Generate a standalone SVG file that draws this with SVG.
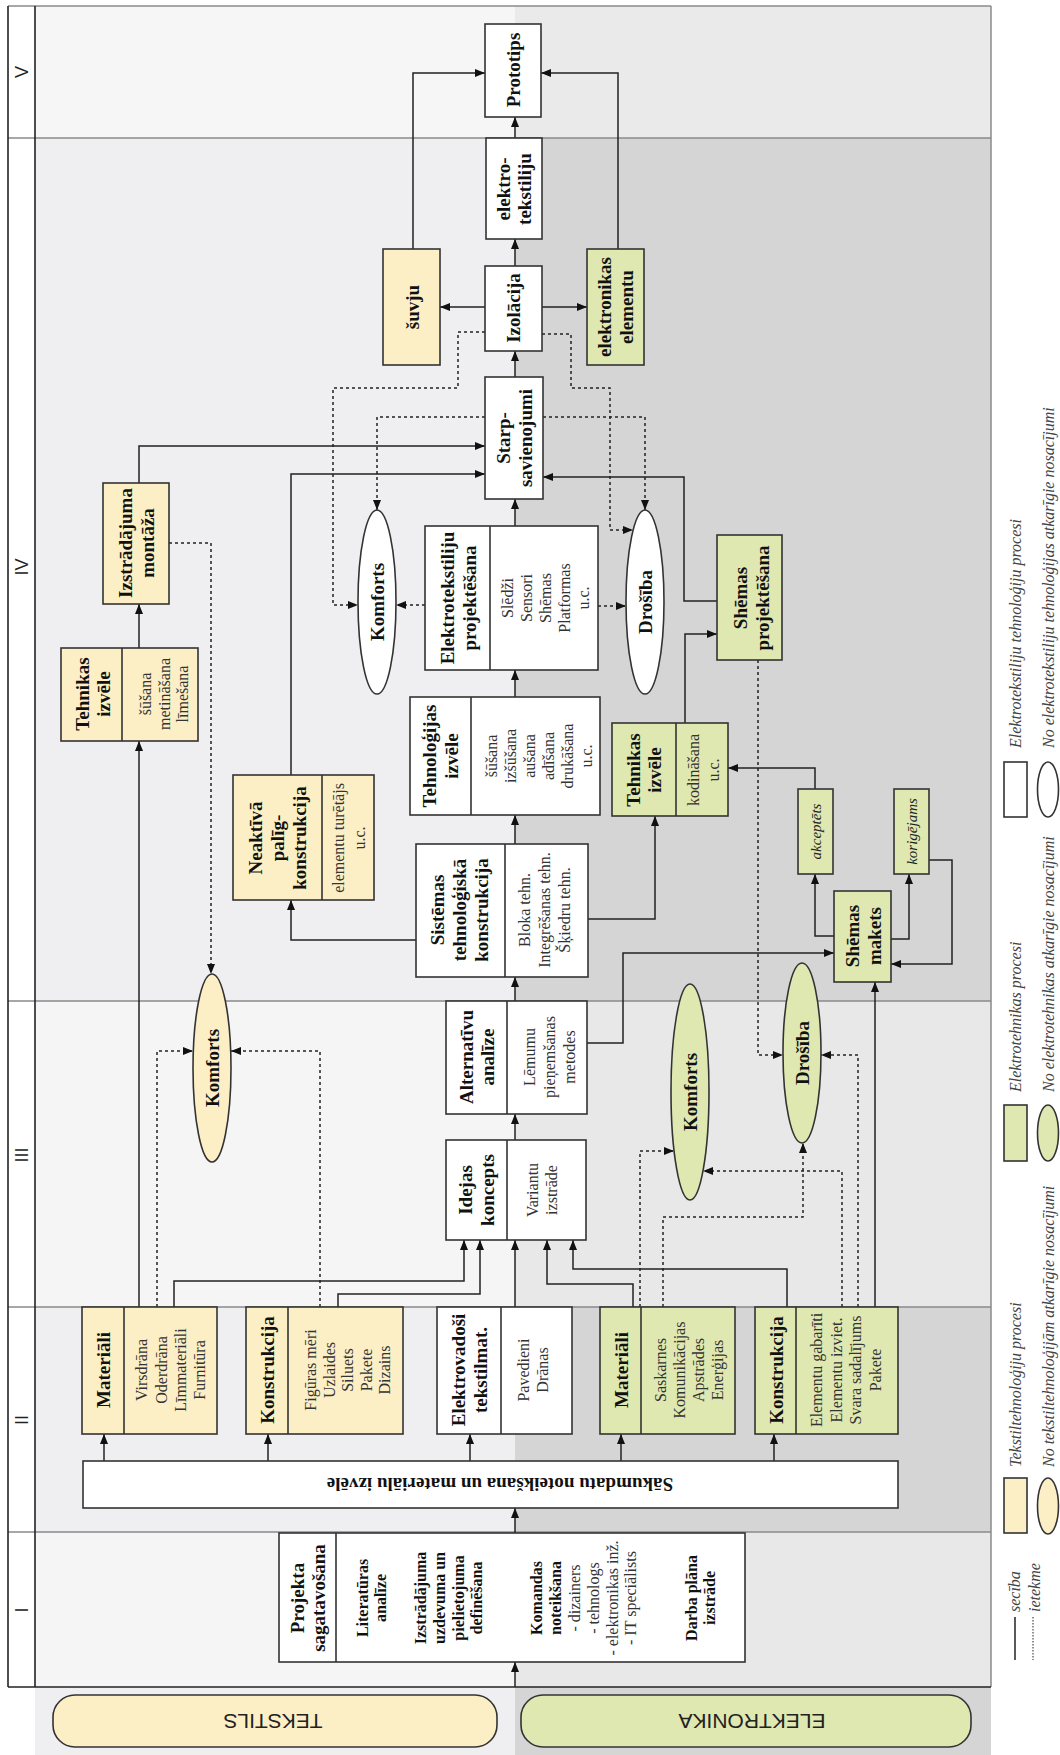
<svg xmlns="http://www.w3.org/2000/svg" width="1060" height="1755" viewBox="0 0 1060 1755">
<style>
.bx{stroke:#333;stroke-width:1.6}
.w{fill:#fff}.y{fill:#fcefc6}.g{fill:#dfe8b1}
.t{font-family:"Liberation Serif",serif;font-weight:bold;font-size:19px;text-anchor:middle;dominant-baseline:central;fill:#111}
.tb{font-family:"Liberation Serif",serif;font-weight:bold;font-size:16px;text-anchor:middle;dominant-baseline:central;fill:#111}
.l{font-family:"Liberation Serif",serif;font-size:16px;text-anchor:middle;dominant-baseline:central;fill:#333}
.i{font-family:"Liberation Serif",serif;font-style:italic;font-size:15px;text-anchor:middle;dominant-baseline:central;fill:#222}
.lg{font-family:"Liberation Serif",serif;font-style:italic;font-size:16px;dominant-baseline:central;fill:#444}
.n{font-family:"Liberation Sans",sans-serif;font-size:18px;text-anchor:middle;dominant-baseline:central;fill:#222}
.p{font-family:"Liberation Sans",sans-serif;font-size:21px;text-anchor:middle;dominant-baseline:central;fill:#222}
.c{fill:none;stroke:#222;stroke-width:1.5}
.d{fill:none;stroke:#222;stroke-width:1.5;stroke-dasharray:3 3}
.ph{stroke:#8a8a8a;stroke-width:1.5}
</style>
<defs>
<marker id="a" viewBox="0 0 10 8" refX="10" refY="4" markerWidth="10" markerHeight="8" markerUnits="userSpaceOnUse" orient="auto"><path d="M0,0L10,4L0,8z" fill="#111"/></marker>
</defs>
<rect width="1060" height="1755" fill="#fff"/>
<g id="background">
<rect x="35" y="6" width="480" height="132" fill="#f6f6f6"/><rect x="515" y="6" width="476" height="132" fill="#eaeaea"/>
<rect x="35" y="138" width="480" height="863" fill="#efeff1"/><rect x="515" y="138" width="476" height="863" fill="#d5d5d5"/>
<rect x="35" y="1001" width="480" height="306" fill="#f5f5f6"/><rect x="515" y="1001" width="476" height="306" fill="#e8e8e8"/>
<rect x="35" y="1307" width="480" height="225" fill="#efeff1"/><rect x="515" y="1307" width="476" height="225" fill="#d5d5d5"/>
<rect x="35" y="1532" width="480" height="155" fill="#f5f5f6"/><rect x="515" y="1532" width="476" height="155" fill="#e8e8e8"/>
<rect x="35" y="1687" width="480" height="68" fill="#efeff1"/><rect x="515" y="1687" width="476" height="68" fill="#d5d5d5"/>
<line class="ph" x1="8" y1="6" x2="991" y2="6"/>
<line class="ph" x1="991" y1="6" x2="991" y2="1687"/>
<line class="ph" x1="8" y1="138" x2="991" y2="138"/>
<line class="ph" x1="8" y1="1001" x2="991" y2="1001"/>
<line class="ph" x1="8" y1="1307" x2="991" y2="1307"/>
<line class="ph" x1="8" y1="1532" x2="991" y2="1532"/>
<line x1="8" y1="6" x2="8" y2="1687" stroke="#222" stroke-width="1.6"/>
<line x1="35" y1="6" x2="35" y2="1687" stroke="#222" stroke-width="1.6"/>
<line x1="8" y1="1687" x2="991" y2="1687" stroke="#222" stroke-width="1.6"/>
<text class="n" transform="rotate(-90)"><tspan x="-72" y="21.5">V</tspan><tspan x="-567" y="21.5">IV</tspan><tspan x="-1155" y="21.5">III</tspan><tspan x="-1420" y="21.5">II</tspan><tspan x="-1610" y="21.5">I</tspan></text>
</g>
<g id="connectors">
<path class="c" marker-end="url(#a)" d="M515,1687V1662"/>
<path class="c" marker-end="url(#a)" d="M515,1533V1508"/>
<path class="c" marker-end="url(#a)" d="M104,1461V1434"/>
<path class="c" marker-end="url(#a)" d="M268,1461V1434"/>
<path class="c" marker-end="url(#a)" d="M470,1461V1434"/>
<path class="c" marker-end="url(#a)" d="M621,1461V1434"/>
<path class="c" marker-end="url(#a)" d="M774,1461V1434"/>
<path class="c" marker-end="url(#a)" d="M174,1307V1281H464V1240"/>
<path class="c" marker-end="url(#a)" d="M338,1307V1294H480V1240"/>
<path class="c" marker-end="url(#a)" d="M515,1307V1240"/>
<path class="c" marker-end="url(#a)" d="M633,1307V1284H547V1240"/>
<path class="c" marker-end="url(#a)" d="M787,1307V1269H573V1240"/>
<path class="c" marker-end="url(#a)" d="M515,1140V1114"/>
<path class="c" marker-end="url(#a)" d="M515,1001V977"/>
<path class="c" marker-end="url(#a)" d="M587,1043H623V953H834"/>
<path class="c" marker-end="url(#a)" d="M875,1307V982"/>
<path class="c" marker-end="url(#a)" d="M139,1307V741"/>
<path class="c" marker-end="url(#a)" d="M139,648V604"/>
<path class="c" marker-end="url(#a)" d="M139,483V446H485"/>
<path class="c" marker-end="url(#a)" d="M416,940H291V900"/>
<path class="c" marker-end="url(#a)" d="M291,775V474H485"/>
<path class="c" marker-end="url(#a)" d="M515,844V815"/>
<path class="c" marker-end="url(#a)" d="M515,697V670"/>
<path class="c" marker-end="url(#a)" d="M515,526V499"/>
<path class="c" marker-end="url(#a)" d="M515,377V351"/>
<path class="c" marker-end="url(#a)" d="M515,266V239"/>
<path class="c" marker-end="url(#a)" d="M515,138V117"/>
<path class="c" marker-end="url(#a)" d="M485,307H440"/>
<path class="c" marker-end="url(#a)" d="M542,307H587"/>
<path class="c" marker-end="url(#a)" d="M413,249V73H485"/>
<path class="c" marker-end="url(#a)" d="M618,249V73H541"/>
<path class="c" marker-end="url(#a)" d="M588,919H655V816"/>
<path class="c" marker-end="url(#a)" d="M685,723V634H717"/>
<path class="c" marker-end="url(#a)" d="M717,601H684V477H543"/>
<path class="c" marker-end="url(#a)" d="M834,936H815V874"/>
<path class="c" marker-end="url(#a)" d="M815,789V768H728"/>
<path class="c" marker-end="url(#a)" d="M891,939H909V874"/>
<path class="c" marker-end="url(#a)" d="M929,860H952V964H891"/>
<path class="d" marker-end="url(#a)" d="M169,543H211V974"/>
<path class="d" marker-end="url(#a)" d="M157,1307V1051H193"/>
<path class="d" marker-end="url(#a)" d="M320,1307V1051H231"/>
<path class="d" marker-end="url(#a)" d="M640,1307V1151H674"/>
<path class="d" marker-end="url(#a)" d="M842,1307V1171H703"/>
<path class="d" marker-end="url(#a)" d="M663,1307V1217H803V1143"/>
<path class="d" marker-end="url(#a)" d="M858,1307V1055H821"/>
<path class="d" marker-end="url(#a)" d="M758,660V1055H783"/>
<path class="d" marker-end="url(#a)" d="M485,417H377V510"/>
<path class="d" marker-end="url(#a)" d="M485,332H458V388H333V605H358"/>
<path class="d" marker-end="url(#a)" d="M425,605H396"/>
<path class="d" marker-end="url(#a)" d="M542,334H571V388H610V530H633"/>
<path class="d" marker-end="url(#a)" d="M543,417H645V510"/>
<path class="d" marker-end="url(#a)" d="M598,606H626"/>
</g>
<g id="prototips"><rect class="bx w" x="485" y="24" width="56" height="93"/><text class="t" transform="rotate(-90)"><tspan x="-70" y="513">Prototips</tspan></text></g>
<g id="elektrotekstiliju"><rect class="bx w" x="486" y="138" width="56" height="101"/><text class="t" transform="rotate(-90)"><tspan x="-189" y="503">elektro-</tspan><tspan x="-189" y="524">tekstiliju</tspan></text></g>
<g id="izolacija"><rect class="bx w" x="485" y="266" width="57" height="85"/><text class="t" transform="rotate(-90)"><tspan x="-308" y="513">Izolācija</tspan></text></g>
<g id="suvju"><rect class="bx y" x="383" y="249" width="57" height="116"/><text class="t" transform="rotate(-90)"><tspan x="-307" y="411.5">šuvju</tspan></text></g>
<g id="elektronikas-elementu"><rect class="bx g" x="587" y="249" width="57" height="116"/><text class="t" transform="rotate(-90)"><tspan x="-307" y="604">elektronikas</tspan><tspan x="-307" y="626">elementu</tspan></text></g>
<g id="starpsavienojumi"><rect class="bx w" x="485" y="377" width="58" height="122"/><text class="t" transform="rotate(-90)"><tspan x="-438" y="503">Starp-</tspan><tspan x="-438" y="525">savienojumi</tspan></text></g>
<g id="izstradajuma-montaza"><rect class="bx y" x="103" y="483" width="66" height="121"/><text class="t" transform="rotate(-90)"><tspan x="-543" y="125">Izstrādājuma</tspan><tspan x="-543" y="147">montāža</tspan></text></g>
<g id="komforts-iv"><ellipse class="bx w" cx="377" cy="602" rx="19" ry="92"/><text class="t" transform="rotate(-90)"><tspan x="-602" y="377">Komforts</tspan></text></g>
<g id="drosiba-iv"><ellipse class="bx w" cx="645" cy="602" rx="19" ry="92"/><text class="t" transform="rotate(-90)"><tspan x="-602" y="645">Drošība</tspan></text></g>
<g id="elektrotekstiliju-projektesana"><rect class="bx w" x="425" y="526" width="173" height="144"/><line class="bx" x1="490" y1="526" x2="490" y2="670"/><text class="t" transform="rotate(-90)"><tspan x="-598" y="447">Elektrotekstiliju</tspan><tspan x="-598" y="469">projektēšana</tspan></text><text class="l" transform="rotate(-90)"><tspan x="-598" y="507">Slēdži</tspan><tspan x="-598" y="526">Sensori</tspan><tspan x="-598" y="545">Shēmas</tspan><tspan x="-598" y="564">Platformas</tspan><tspan x="-598" y="583">u.c.</tspan></text></g>
<g id="shemas-projektesana"><rect class="bx g" x="717" y="535" width="65" height="125"/><text class="t" transform="rotate(-90)"><tspan x="-598" y="740">Shēmas</tspan><tspan x="-598" y="762">projektēšana</tspan></text></g>
<g id="tehnikas-izvele-t"><rect class="bx y" x="61" y="648" width="137" height="93"/><line class="bx" x1="122" y1="648" x2="122" y2="741"/><text class="t" transform="rotate(-90)"><tspan x="-694" y="82">Tehnikas</tspan><tspan x="-694" y="103">izvēle</tspan></text><text class="l" transform="rotate(-90)"><tspan x="-694" y="145">šūšana</tspan><tspan x="-694" y="164">metināšana</tspan><tspan x="-694" y="182">līmešana</tspan></text></g>
<g id="tehnologijas-izvele"><rect class="bx w" x="410" y="697" width="190" height="118"/><line class="bx" x1="471" y1="697" x2="471" y2="815"/><text class="t" transform="rotate(-90)"><tspan x="-756" y="429">Tehnoloģijas</tspan><tspan x="-756" y="451">izvēle</tspan></text><text class="l" transform="rotate(-90)"><tspan x="-756" y="491">šūšana</tspan><tspan x="-756" y="510">izšūšana</tspan><tspan x="-756" y="529">aušana</tspan><tspan x="-756" y="548">adīšana</tspan><tspan x="-756" y="567">drukāšana</tspan><tspan x="-756" y="586">u.c.</tspan></text></g>
<g id="tehnikas-izvele-e"><rect class="bx g" x="612" y="723" width="116" height="93"/><line class="bx" x1="676" y1="723" x2="676" y2="816"/><text class="t" transform="rotate(-90)"><tspan x="-770" y="633">Tehnikas</tspan><tspan x="-770" y="654">izvēle</tspan></text><text class="l" transform="rotate(-90)"><tspan x="-770" y="693">kodināšana</tspan><tspan x="-770" y="713">u.c.</tspan></text></g>
<g id="neaktiva-paligkonstrukcija"><rect class="bx y" x="233" y="775" width="141" height="125"/><line class="bx" x1="322" y1="775" x2="322" y2="900"/><text class="t" transform="rotate(-90)"><tspan x="-838" y="255">Neaktīvā</tspan><tspan x="-838" y="277">palīg-</tspan><tspan x="-838" y="299">konstrukcija</tspan></text><text class="l" transform="rotate(-90)"><tspan x="-838" y="338">elementu turētājs</tspan><tspan x="-838" y="359">u.c.</tspan></text></g>
<g id="sistemas-konstrukcija"><rect class="bx w" x="416" y="844" width="172" height="133"/><line class="bx" x1="505" y1="844" x2="505" y2="977"/><text class="t" transform="rotate(-90)"><tspan x="-910" y="437">Sistēmas</tspan><tspan x="-910" y="459">tehnoloģiskā</tspan><tspan x="-910" y="481">konstrukcija</tspan></text><text class="l" transform="rotate(-90)"><tspan x="-910" y="524">Bloka tehn.</tspan><tspan x="-910" y="544">Integrēšanas tehn.</tspan><tspan x="-910" y="564">Šķiedru tehn.</tspan></text></g>
<g id="akceptets"><rect class="bx g" x="798" y="789" width="35" height="85"/><text class="i" transform="rotate(-90)"><tspan x="-831.5" y="815.5">akceptēts</tspan></text></g>
<g id="korigejams"><rect class="bx g" x="894" y="789" width="35" height="85"/><text class="i" transform="rotate(-90)"><tspan x="-831.5" y="911.5">korigējams</tspan></text></g>
<g id="shemas-makets"><rect class="bx g" x="834" y="891" width="57" height="91"/><text class="t" transform="rotate(-90)"><tspan x="-936" y="852">Shēmas</tspan><tspan x="-936" y="874">makets</tspan></text></g>
<g id="komforts-t"><ellipse class="bx y" cx="212" cy="1068" rx="19" ry="94"/><text class="t" transform="rotate(-90)"><tspan x="-1068" y="212">Komforts</tspan></text></g>
<g id="alternativu-analize"><rect class="bx w" x="446" y="1001" width="141" height="113"/><line class="bx" x1="507" y1="1001" x2="507" y2="1114"/><text class="t" transform="rotate(-90)"><tspan x="-1057" y="466">Alternatīvu</tspan><tspan x="-1057" y="487">analīze</tspan></text><text class="l" transform="rotate(-90)"><tspan x="-1057" y="529">Lēmumu</tspan><tspan x="-1057" y="549">pieņemšanas</tspan><tspan x="-1057" y="569">metodes</tspan></text></g>
<g id="komforts-e"><ellipse class="bx g" cx="690" cy="1092" rx="19" ry="108"/><text class="t" transform="rotate(-90)"><tspan x="-1092" y="690">Komforts</tspan></text></g>
<g id="drosiba-e"><ellipse class="bx g" cx="802" cy="1053" rx="19" ry="90"/><text class="t" transform="rotate(-90)"><tspan x="-1053" y="802">Drošība</tspan></text></g>
<g id="idejas-koncepts"><rect class="bx w" x="446" y="1140" width="140" height="100"/><line class="bx" x1="507" y1="1140" x2="507" y2="1240"/><text class="t" transform="rotate(-90)"><tspan x="-1190" y="465">Idejas</tspan><tspan x="-1190" y="487">koncepts</tspan></text><text class="l" transform="rotate(-90)"><tspan x="-1190" y="532">Variantu</tspan><tspan x="-1190" y="551">izstrāde</tspan></text></g>
<g id="materiali-t"><rect class="bx y" x="82" y="1307" width="135" height="127"/><line class="bx" x1="124" y1="1307" x2="124" y2="1434"/><text class="t" transform="rotate(-90)"><tspan x="-1370" y="103">Materiāli</tspan></text><text class="l" transform="rotate(-90)"><tspan x="-1370" y="141">Virsdrāna</tspan><tspan x="-1370" y="160.5">Oderdrāna</tspan><tspan x="-1370" y="180">Līmmateriāli</tspan><tspan x="-1370" y="199">Furnitūra</tspan></text></g>
<g id="konstrukcija-t"><rect class="bx y" x="246" y="1307" width="157" height="127"/><line class="bx" x1="288" y1="1307" x2="288" y2="1434"/><text class="t" transform="rotate(-90)"><tspan x="-1370" y="267">Konstrukcija</tspan></text><text class="l" transform="rotate(-90)"><tspan x="-1370" y="310">Figūras mēri</tspan><tspan x="-1370" y="328.5">Uzlaides</tspan><tspan x="-1370" y="347">Siluets</tspan><tspan x="-1370" y="365.5">Pakete</tspan><tspan x="-1370" y="384">Dizains</tspan></text></g>
<g id="elektrovadosi"><rect class="bx w" x="437" y="1307" width="135" height="127"/><line class="bx" x1="501" y1="1307" x2="501" y2="1434"/><text class="t" transform="rotate(-90)"><tspan x="-1370" y="458">Elektrovadoši</tspan><tspan x="-1370" y="480">tekstilmat.</tspan></text><text class="l" transform="rotate(-90)"><tspan x="-1370" y="523">Pavedieni</tspan><tspan x="-1370" y="542">Drānas</tspan></text></g>
<g id="materiali-e"><rect class="bx g" x="600" y="1307" width="135" height="127"/><line class="bx" x1="641" y1="1307" x2="641" y2="1434"/><text class="t" transform="rotate(-90)"><tspan x="-1370" y="620.5">Materiāli</tspan></text><text class="l" transform="rotate(-90)"><tspan x="-1370" y="660">Saskarnes</tspan><tspan x="-1370" y="679">Komunikācijas</tspan><tspan x="-1370" y="698">Apstrādes</tspan><tspan x="-1370" y="717">Enerģijas</tspan></text></g>
<g id="konstrukcija-e"><rect class="bx g" x="755" y="1307" width="143" height="127"/><line class="bx" x1="796" y1="1307" x2="796" y2="1434"/><text class="t" transform="rotate(-90)"><tspan x="-1370" y="775.5">Konstrukcija</tspan></text><text class="l" transform="rotate(-90)"><tspan x="-1370" y="816">Elementu gabarīti</tspan><tspan x="-1370" y="835.5">Elementu izviet.</tspan><tspan x="-1370" y="855">Svara sadalījums</tspan><tspan x="-1370" y="874.5">Pakete</tspan></text></g>
<g id="sakumdatu"><rect class="bx w" x="83" y="1461" width="815" height="47"/><text class="t" x="500" y="1484" transform="rotate(180 500 1484)">Sākumdatu noteikšana un materiālu izvēle</text></g>
<g id="projekta-sagatavosana"><rect class="bx w" x="279" y="1533" width="466" height="129"/><line class="bx" x1="336" y1="1533" x2="336" y2="1662"/><text class="t" transform="rotate(-90)"><tspan x="-1598" y="297">Projekta</tspan><tspan x="-1598" y="318">sagatavošana</tspan></text><text class="tb" transform="rotate(-90)"><tspan x="-1598" y="362">Literatūras</tspan><tspan x="-1598" y="380">analīze</tspan><tspan x="-1598" y="420">Izstrādājuma</tspan><tspan x="-1598" y="439">uzdevuma un</tspan><tspan x="-1598" y="458">pielietojuma</tspan><tspan x="-1598" y="476">definēšana</tspan><tspan x="-1598" y="536">Komandas</tspan><tspan x="-1598" y="555">noteikšana</tspan><tspan x="-1598" y="691">Darba plāna</tspan><tspan x="-1598" y="709">izstrāde</tspan></text><text class="l" transform="rotate(-90)"><tspan x="-1598" y="574">- dizainers</tspan><tspan x="-1598" y="593">- tehnologs</tspan><tspan x="-1598" y="612">- elektronikas inž.</tspan><tspan x="-1598" y="630">- IT speciālists</tspan></text></g>
<g id="tekstils"><rect class="bx y" x="53" y="1695" width="444" height="52" rx="22"/><text class="p" x="273" y="1721" transform="rotate(180 273 1721)">TEKSTILS</text></g>
<g id="elektronika"><rect class="bx g" x="521" y="1695" width="450" height="52" rx="22"/><text class="p" x="752" y="1721" transform="rotate(180 752 1721)">ELEKTRONIKA</text></g>
<g id="legend">
<rect class="bx w" x="1004" y="762" width="23" height="55"/><ellipse class="bx w" cx="1048" cy="789.5" rx="10.5" ry="27.5"/>
<rect class="bx g" x="1004" y="1105" width="23" height="56"/><ellipse class="bx g" cx="1048" cy="1133" rx="10.5" ry="28"/>
<rect class="bx y" x="1004" y="1478" width="23" height="55"/><ellipse class="bx y" cx="1048" cy="1506" rx="10.5" ry="28"/>
<line x1="1015" y1="1617" x2="1015" y2="1660" stroke="#222" stroke-width="1.5"/>
<line x1="1033" y1="1617" x2="1033" y2="1660" stroke="#222" stroke-width="1" stroke-dasharray="1.5 1.5"/>
<text class="lg" transform="rotate(-90)"><tspan x="-748" y="1015">Elektrotekstiliju tehnoloģiju procesi</tspan><tspan x="-748" y="1048">No elektrotekstiliju tehnoloģijas atkarīgie nosacījumi</tspan><tspan x="-1092" y="1015">Elektrotehnikas procesi</tspan><tspan x="-1092" y="1048">No elektrotehnikas atkarīgie nosacījumi</tspan><tspan x="-1467" y="1015">Tekstiltehnoloģiju procesi</tspan><tspan x="-1467" y="1048">No tekstiltehnoloģijām atkarīgie nosacījumi</tspan><tspan x="-1612" y="1014">secība</tspan><tspan x="-1612" y="1034">ietekme</tspan></text>
</g>
</svg>
